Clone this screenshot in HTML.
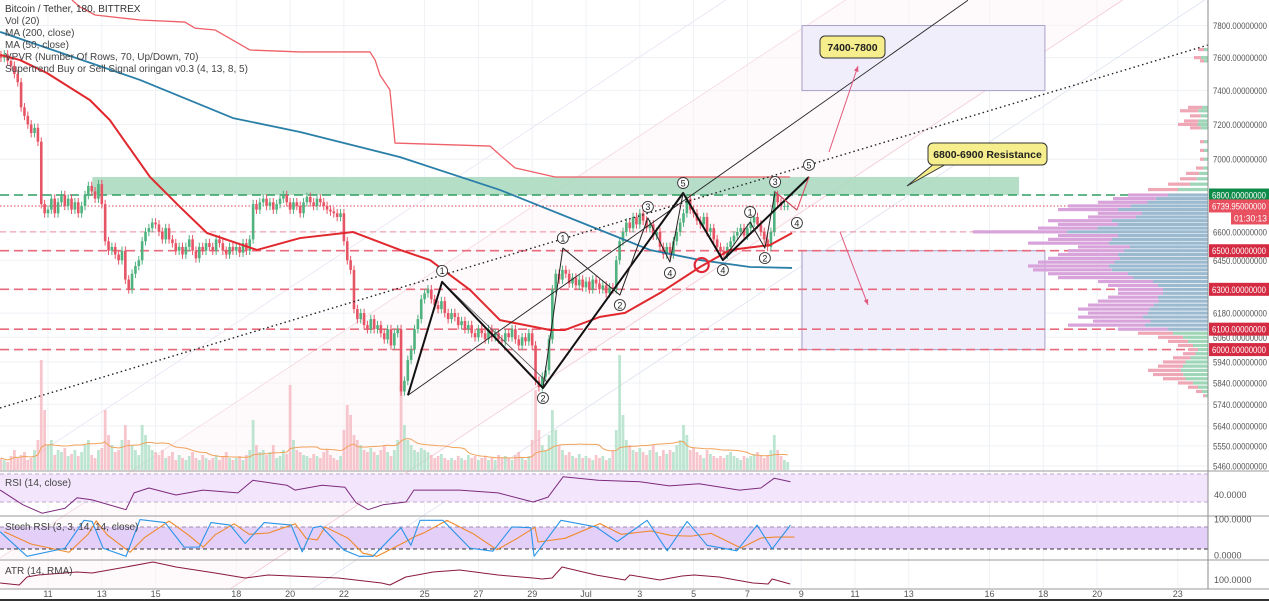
<!DOCTYPE html>
<html><head><meta charset="utf-8"><title>BTC/USDT 180 chart</title>
<style>
html,body{margin:0;padding:0;background:#fff;overflow:hidden;width:1269px;height:602px}
svg{display:block;font-family:"Liberation Sans",sans-serif;overflow:hidden}
.ax{font-size:9px;fill:#555}
.lg{font-size:10px;fill:#444}
</style></head>
<body>
<svg id="chart" width="1269" height="602" viewBox="0 0 1269 602" xmlns="http://www.w3.org/2000/svg">
<defs><clipPath id="plotclip"><rect x="0" y="0" width="1208" height="589"/></clipPath></defs>
<g id="grid"></g>
<g id="zones" clip-path="url(#plotclip)"></g>
<g id="vprofile"></g>
<g id="volume"></g>
<g id="candles"></g>
<g id="lines"></g>
<g id="annot" clip-path="url(#plotclip)"></g>
<g id="panes"></g>
<g id="axes"></g>
<g id="legend">
 <text class="lg" x="5" y="12" style="fill:#333">Bitcoin / Tether, 180, BITTREX</text>
 <text class="lg" x="5" y="24">Vol (20)</text>
 <text class="lg" x="5" y="36">MA (200, close)</text>
 <text class="lg" x="5" y="48">MA (50, close)</text>
 <text class="lg" x="5" y="60">VPVR (Number Of Rows, 70, Up/Down, 70)</text>
 <text class="lg" x="5" y="72">Supertrend Buy or Sell Signal oringan v0.3 (4, 13, 8, 5)</text>
</g>
</svg>
<script>
const startDay = 9.25;
const closes = [
7600,7620,7580,7550,7500,7450,
7300,7250,7200,7150,7180,7100,6750,6700,
6720,6780,6700,6760,6800,6740,6780,6720,
6760,6700,6740,6800,6850,6820,6780,6860,
6750,6550,6500,6520,6480,6450,6500,6350,
6300,6380,6420,6450,6550,6600,6620,6650,
6640,6600,6560,6620,6560,6540,6500,6520,
6480,6520,6560,6500,6460,6520,6500,6540,
6520,6500,6560,6540,6500,6480,6520,6500,
6520,6490,6540,6500,6560,6750,6720,6760,
6780,6740,6760,6720,6750,6780,6800,6760,
6720,6760,6740,6700,6760,6790,6760,6740,
6780,6760,6740,6720,6710,6700,6680,6700,
6550,6450,6400,6200,6150,6180,6120,6100,
6150,6100,6120,6080,6050,6100,6020,6080,
6100,5800,5850,5950,6000,6100,6150,6250,
6280,6300,6250,6220,6200,6240,6180,6150,
6180,6160,6120,6140,6100,6120,6080,6060,
6100,6080,6050,6100,6060,6080,6050,6040,
6080,6060,6100,6050,6020,6060,6040,6080,
6020,5850,5820,5870,5900,6050,6300,6380,
6350,6400,6380,6330,6360,6320,6350,6310,
6340,6300,6350,6330,6300,6320,6280,6310,
6300,6450,6550,6600,6650,6620,6680,6640,
6700,6660,6620,6640,6580,6600,6520,6480,
6520,6480,6550,6600,6650,6700,6780,6720,
6700,6660,6640,6680,6600,6620,6560,6520,
6500,6480,6520,6550,6580,6600,6620,6580,
6620,6650,6680,6640,6600,6560,6520,6600,
6800,6760,6740,6740,6740];
const volumes = [
12,10,8,14,20,12,
15,18,10,12,20,30,110,60,
25,30,15,20,18,22,14,16,
20,14,18,25,30,15,12,20,
22,60,35,25,18,20,30,45,
30,25,20,15,45,35,25,20,
18,15,20,12,14,18,10,15,
12,10,14,18,12,10,15,12,
10,12,15,10,14,18,12,10,
12,14,10,15,20,50,25,18,
20,15,18,25,12,14,20,16,
85,30,20,18,15,14,12,16,
14,12,18,20,15,12,10,14,
40,65,55,35,30,25,20,18,
22,18,15,20,25,18,14,20,
30,85,45,30,25,20,18,22,
20,18,15,12,14,16,12,10,
12,10,14,12,10,15,12,14,
10,12,14,10,12,10,15,12,
14,12,10,15,18,12,10,14,
30,80,40,25,20,35,60,40,
25,20,15,18,14,12,16,12,
14,12,10,15,12,14,10,12,
20,40,115,55,30,25,20,18,
22,18,15,20,25,18,14,20,
16,20,18,25,30,45,35,20,
22,18,15,12,20,16,14,12,
14,12,15,18,14,12,10,14,
12,14,16,18,14,12,15,20,
35,20,14,10,8];
const ma50Days  = [9.22,9.96,10.96,12.56,13.3,14.79,15.91,16.91,18.77,20.37,22.34,24.09,25.2,26.69,27.8,29.66,30.22,31.52,32.45,33.75,35.24,36.35,37.84,38.66];
const ma50Vals  = [7617,7585,7506,7343,7225,6900,6734,6594,6504,6567,6599,6504,6451,6297,6145,6096,6096,6161,6181,6281,6415,6504,6530,6594];
const ma200Days = [9.22,14.42,17.88,20.37,24.09,27.8,31.52,33.38,35.24,37.1,38.66];
const ma200Vals = [7760,7464,7237,7156,7012,6828,6610,6504,6451,6415,6410];
const stDays = [11.89,12.19,12.75,14.42,16.09,16.46,17.21,18.51,20.37,22.97,23.16,23.34,23.71,23.9,27.43,27.8,28.36,29.85,38.58];
const stVals = [7963,7918,7867,7835,7822,7784,7772,7647,7635,7635,7585,7494,7404,7092,7075,7024,6951,6900,6900];
const rsiDays = [9.22,10.07,10.78,11.63,12.08,12.64,13.9,14.2,14.75,15.76,16.76,18.06,18.62,19.88,20.18,21.19,22.04,22.45,22.9,23.45,24.31,24.6,26.3,27.73,29.03,29.59,30.15,31.45,33.0,34.1,35.2,36.7,37.5,38.0,38.6];
const rsiVals = [47,26,14,21,36,33,19,43,50,40,47,43,61,54,47,54,51,29,19,26,30,47,47,43,30,37,66,61,59,53,56,47,50,64,59];
const stochDays = [9.22,10.22,11.63,12.34,12.64,13.05,13.9,14.42,15.35,16.06,16.62,17.06,17.77,18.33,19.04,20.04,20.45,20.86,21.15,22.0,22.56,23.08,24.12,24.49,24.83,25.68,26.69,27.54,28.25,28.95,29.07,30.07,31.37,32.16,33.27,34.02,34.76,35.5,36.61,37.36,37.92,38.6];
const stochK = [67,0,22,98,95,22,0,100,92,25,25,92,85,35,92,85,12,78,82,17,0,0,78,30,98,98,22,14,80,78,0,98,80,40,98,15,95,30,15,85,20,85];
const atrDays = [9.22,9.93,10.22,10.63,12.08,12.64,13.9,14.9,15.76,17.21,18.33,19.18,21.79,23.4,23.71,24.3,24.72,25.31,26.3,27.73,29.03,29.37,29.74,30.11,31.37,32.45,32.63,33.75,34.57,35.02,35.95,37.21,37.77,37.92,38.59];
const atrVals = [94,90,106,110,116,114,126,136,126,114,104,110,104,94,90,106,110,116,120,110,104,102,104,126,110,100,110,100,108,110,106,94,92,102,92];
const vpPrice = [7650,7600,7580,7300,7280,7250,7220,7200,7180,7100,7050,7000,6950,6920,6890,6860,6830,6800,6780,6760,6740,6720,6700,6680,6660,6640,6620,6600,6580,6560,6540,6520,6500,6480,6460,6440,6420,6400,6380,6360,6340,6320,6300,6280,6260,6240,6220,6200,6180,6160,6140,6120,6100,6080,6060,6040,6020,6000,5980,5960,5940,5920,5900,5880,5860,5840,5820,5800,5780];
const vpWidth = [10,14,8,20,28,18,24,30,18,8,8,8,12,22,28,40,60,80,95,110,140,150,110,120,160,150,170,235,150,160,180,130,140,150,160,170,180,175,160,150,110,100,90,90,100,110,120,130,120,130,115,140,90,70,50,40,30,20,25,35,45,50,60,55,45,30,20,12,5];
const vpUp    = [.4,.5,.5,.3,.35,.4,.4,.35,.4,.5,.5,.5,.4,.4,.4,.45,.5,.5,.55,.55,.55,.6,.6,.6,.6,.6,.65,.6,.6,.6,.55,.6,.6,.6,.55,.55,.55,.55,.5,.5,.5,.5,.5,.5,.5,.45,.45,.45,.5,.5,.5,.45,.45,.5,.5,.5,.5,.5,.5,.5,.5,.5,.45,.45,.5,.5,.5,.5,.5];
const priceTicks = [7800,7600,7400,7200,7000,6600,6450,6180,6060,5940,5840,5740,5640,5550,5460];
const dateTickDays = [11,13,15,18,20,22,25,27,29,31,33,35,37,39,41,43,46,48,50,53];
const dateTickLabels = ["11","13","15","18","20","22","25","27","29","Jul","3","5","7","9","11","13","16","18","20","23"];

const NS="http://www.w3.org/2000/svg";
const X = d => 48 + (d-11)*26.9;
const Y = p => 195 - 1235*Math.log(p/6800);
const VOLBASE=470, VY = v => VOLBASE - v;
const RY = v => 474 + (70-v)*0.7;
const SY = v => 556.3 - v*0.367;
const AY = v => 580 - (v-100)*0.5;
const RIGHT=1208;
function mk(tag, attrs, parent){const e=document.createElementNS(NS,tag);for(const k in attrs)e.setAttribute(k,attrs[k]);parent.appendChild(e);return e;}
const G=id=>document.getElementById(id);

const grid=G('grid');
dateTickDays.forEach(d=>{const l=mk('line',{x1:X(d),x2:X(d),y1:0,y2:589,stroke:'#eef1f5','stroke-width':1},grid);

});
priceTicks.concat([6800,6500,6300,6100,6000]).forEach(p=>{const l=mk('line',{x1:0,x2:RIGHT,y1:Y(p),y2:Y(p),stroke:'#eef1f5','stroke-width':1},grid);

});

const zones=G('zones');
function seg(par,x1,y1,x2,y2,st,w,dash,name){const l=mk('line',{x1,y1,x2,y2,stroke:st,'stroke-width':w},par);if(dash)l.setAttribute('stroke-dasharray',dash);

return l;}
const slope=-0.66;
// clip a channel line (intercept b at x=0) to the plot box 0..RIGHT, 0..589
function chanSeg(b){let x1=0,y1=b;if(y1>589){x1=(589-b)/slope;y1=589;}let x2=RIGHT,y2=b+slope*RIGHT;if(y2<0){x2=-b/slope;y2=0;}return [x1,y1,x2,y2];}
const chan=[[479,'#ece2f3'],[558,'#f5d8df'],[741,'#f3c9d3'],[795,'#dde2ee']];
const s1=chanSeg(558), s2=chanSeg(741);
const cf=mk('polygon',{points:`${s1[0]},${s1[1]} ${s1[2]},${s1[3]} ${s2[2]},${s2[3]} ${RIGHT},0 ${s2[2]},${s2[3]} ${s2[0]},${s2[1]} 0,589 0,558`,fill:'#fdf3f6',opacity:0.5},zones);
cf.setAttribute('points',`0,558 ${s1[2]},${s1[3]} ${s2[2]},${s2[3]} ${s2[0]},${s2[1]} 0,589`);


chan.forEach(c=>{const s=chanSeg(c[0]);seg(zones,s[0],s[1],s[2],s[3],c[1],0.8,null,'channel-line');});
const gz=mk('rect',{x:X(12.65),y:Y(6900),width:X(47.1)-X(12.65),height:Y(6800)-Y(6900),fill:'#a8d8bd',opacity:0.85},zones);


[[7800,7400,'target-box'],[6500,6000,'support-box']].forEach(b=>{const r=mk('rect',{x:X(39.03),y:Y(b[0]),width:X(48.06)-X(39.03),height:Y(b[1])-Y(b[0]),fill:'#f1eefc',stroke:'#a9a0c8','stroke-width':1},zones);

});
seg(zones,0,Y(6800),RIGHT,Y(6800),'#2e9e62',1.6,'9 5','level-6800');
seg(zones,0,Y(6739.95),RIGHT,Y(6739.95),'#e0455a',1,'1.5 2','level-last-price');
seg(zones,0,Y(6600),RIGHT,Y(6600),'#eb8d9c',1,'6 4','level-6600');
[6500,6300,6100,6000].forEach(p=>seg(zones,0,Y(p),RIGHT,Y(p),'#e86a7c',1.6,'9 5','level-'+p));

const vp=G('vprofile');
vpPrice.forEach((p,i)=>{const w=vpWidth[i],inVA=p>=6100&&p<=6800,y=Y(p)-1.6;
const up=w*vpUp[i];
const a=mk('rect',{x:RIGHT-up,y,width:up,height:3.2,fill:inVA?'#9bbad0':'#9fd6b8'},vp);


const b=mk('rect',{x:RIGHT-w,y,width:w-up,height:3.2,fill:inVA?'#d8a2da':'#efa7b6'},vp);

});

const cg=G('candles'), vg=G('volume');
closes.forEach((c,i)=>{const d=startDay+i*0.125,x=X(d),o=i?closes[i-1]:c*1.002,up=c>=o;
const col=up?'#4fb27f':'#e65566';
const hi=Math.max(o,c)*1.0035, lo=Math.min(o,c)*0.9965;
const w=mk('line',{x1:x,x2:x,y1:Y(hi),y2:Y(lo),stroke:col,'stroke-width':1},cg);


const yb=Math.min(Y(o),Y(c)),h=Math.max(1,Math.abs(Y(o)-Y(c)));
const r=mk('rect',{x:x-1.3,y:yb,width:2.6,height:h,fill:col},cg);


const v=volumes[i];
const vb=mk('rect',{x:x-1.4,y:VY(v),width:2.8,height:v,fill:up?'#a7dcc2':'#f4b3bc',opacity:0.75},vg);

});
let vpts=[];volumes.forEach((v,i)=>{const s=volumes.slice(Math.max(0,i-19),i+1);const m=s.reduce((a,b)=>a+b,0)/s.length;vpts.push(X(startDay+i*0.125)+','+VY(m));});
const vma=mk('polyline',{points:vpts.join(' '),fill:'none',stroke:'#f0a35a','stroke-width':1},vg);



const lg=G('lines');
function pl(par,days,vals,fx,fy,col,w,name){const p=mk('polyline',{points:days.map((d,i)=>fx(d)+','+fy(vals[i])).join(' '),fill:'none',stroke:col,'stroke-width':w,'stroke-linejoin':'round'},par);

return p;}
pl(lg,ma200Days,ma200Vals,X,Y,'#2a7fa8',1.8,'ma200-line');
pl(lg,ma50Days,ma50Vals,X,Y,'#e0282e',2,'ma50-line');
pl(lg,stDays,stVals,X,Y,'#ef5f68',1.3,'supertrend-line');

const an=G('annot');
seg(an,0,408,RIGHT,45,'#222',1.4,'1.5 3','dotted-trendline');
seg(an,X(24.38),Y(5782),X(24.38)+560,Y(5782)-395,'#222',0.9,null,'channel-top-line');
seg(an,X(25.65),Y(6338),X(29.4)+4,Y(5816)-6,'#555',0.8,null,'wave-thin');
const thickD=[24.38,25.65,29.4,34.61,36.09,39.29], thickP=[5782,6338,5816,6811,6451,6900];
pl(an,thickD,thickP,X,Y,'#111',2,'elliott-wave-main');
pl(an,[29.4,30.14,32.26,33.3,34.12,34.61],[5816,6514,6271,6675,6441,6811],X,Y,'#222',1,'elliott-wave-sub1');
pl(an,[36.09,37.1,37.65,38.03,38.84],[6451,6653,6514,6817,6718],X,Y,'#222',1,'elliott-wave-sub2');
pl(an,[38.03,38.84,39.29],[6817,6718,6900],X,Y,'#e0455a',1,'elliott-wave-tail');
const lab=[[25.65,6338,'1',-11],[29.4,5816,'2',10],[30.14,6514,'1',-10],[32.26,6271,'2',10],[33.3,6675,'3',-11],[34.12,6441,'4',11],[34.61,6811,'5',-10],[36.09,6451,'4',10],[37.1,6653,'1',-10],[37.65,6514,'2',10],[38.03,6817,'3',-10],[38.84,6718,'4',13],[39.29,6900,'5',-12]];
lab.forEach(l=>{const cx=X(l[0]),cy=Y(l[1])+l[3];
const c=mk('circle',{cx,cy,r:5.5,fill:'#fff',stroke:'#333','stroke-width':0.9},an);


const t=mk('text',{x:cx,y:cy+3.3,'text-anchor':'middle','font-size':'9px',fill:'#222'},an);t.textContent=l[2];

});
const rc=mk('circle',{cx:X(35.3),cy:Y(6451)+5,r:7,fill:'none',stroke:'#e0283a','stroke-width':2.2},an);


function arrow(x1,y1,x2,y2,name){seg(an,x1,y1,x2,y2,'#e0587c',1,null,name);const a=Math.atan2(y2-y1,x2-x1),s=6;
const p=mk('polygon',{points:`${x2},${y2} ${x2-s*Math.cos(a-0.4)},${y2-s*Math.sin(a-0.4)} ${x2-s*Math.cos(a+0.4)},${y2-s*Math.sin(a+0.4)}`,fill:'#e0587c'},an);

}
arrow(829,152,858,66,'arrow-up-target');
arrow(840,232,868,305,'arrow-down-target');
function callout(x,y,w,h,txt,tail,name){
if(tail){const p=mk('polygon',{points:tail,fill:'#f6ee8c',stroke:'#333','stroke-width':1},an);

}
const r=mk('rect',{x,y,width:w,height:h,rx:5,fill:'#f6ee8c',stroke:'#333','stroke-width':1},an);


const t=mk('text',{x:x+w/2,y:y+h/2+3.8,'text-anchor':'middle','font-size':'10.5px','font-weight':'bold',fill:'#222'},an);t.textContent=txt;

}
callout(820,36,65,22,'7400-7800',null,'target-callout');
callout(928,143,119,22,'6800-6900 Resistance','935,163 907,186 948,163','resistance-callout');

const pn=G('panes');
function band(y1,y2,fill,name){const r=mk('rect',{x:0,y:y1,width:RIGHT,height:y2-y1,fill},pn);

}
band(RY(70),RY(30),'#f3e6fc','rsi-band');
seg(pn,0,RY(70),RIGHT,RY(70),'#bda9cc',1,'4 3','rsi-70');
seg(pn,0,RY(30),RIGHT,RY(30),'#bda9cc',1,'4 3','rsi-30');
pl(pn,rsiDays,rsiVals,X,RY,'#7d2a7e',1,'rsi-line');
band(SY(80),SY(20),'#e4cff9','stoch-band');
seg(pn,0,SY(80),RIGHT,SY(80),'#9d8db0',1,'4 3','stoch-80');
seg(pn,0,SY(20),RIGHT,SY(20),'#333',1,'4 3','stoch-20');
const stochD=stochK.map((v,i)=>i?(v+stochK[i-1])/2:v);
pl(pn,stochDays.map(d=>d+0.15),stochD,X,SY,'#f08a2a',1.1,'stoch-d-line');
pl(pn,stochDays,stochK,X,SY,'#2a95e8',1.1,'stoch-k-line');
pl(pn,atrDays,atrVals,X,AY,'#8a1b3e',1,'atr-line');
[['RSI (14, close)',486,'rsi-title'],['Stoch RSI (3, 3, 14, 14, close)',530,'stoch-title'],['ATR (14, RMA)',574,'atr-title']].forEach(t=>{const e=mk('text',{x:5,y:t[1],class:'lg','font-size':'9.5px'},pn);e.textContent=t[0];

});

const ax=G('axes');
[471,516,560,589].forEach(y=>seg(ax,0,y,1269,y,'#9a9a9a',1,null,'pane-separator'));
seg(ax,0,600,1269,600,'#333',2,null,'bottom-border');
seg(ax,RIGHT,0,RIGHT,589,'#8c8c8c',1,null,'price-axis-line');
priceTicks.forEach(p=>{const t=mk('text',{x:RIGHT+5,y:Y(p)+3.5,class:'ax',textLength:54,lengthAdjust:'spacingAndGlyphs'},ax);t.textContent=p.toFixed(8);

});
const tags=[[6800,'6800.00000000','#0c8a48'],[6739.95,'6739.95000000','#e8505f'],[6500,'6500.00000000','#d42a42'],[6300,'6300.00000000','#d42a42'],[6100,'6100.00000000','#d42a42'],[6000,'6000.00000000','#d42a42']];
tags.forEach(g=>{const y=Y(g[0]);const r=mk('rect',{x:RIGHT+1,y:y-6.5,width:60,height:13,fill:g[2]},ax);


const t=mk('text',{x:RIGHT+4,y:y+3.5,class:'ax',style:'fill:#fff',textLength:54,lengthAdjust:'spacingAndGlyphs'},ax);t.textContent=g[1];

});
const ct=mk('rect',{x:1231,y:Y(6739.95)+6.5,width:38,height:12,fill:'#e8505f'},ax);


const ctt=mk('text',{x:1234,y:Y(6739.95)+15.5,class:'ax',style:'fill:#fff',textLength:33,lengthAdjust:'spacingAndGlyphs'},ax);ctt.textContent='01:30:13';


[['40.0000',RY(40)+3],['100.0000',SY(100)+3],['0.0000',SY(0)+2],['100.0000',AY(100)+3]].forEach(l=>{const t=mk('text',{x:RIGHT+6,y:l[1],class:'ax'},ax);t.textContent=l[0];

});
dateTickDays.forEach((d,i)=>{const t=mk('text',{x:X(d),y:597,class:'ax','text-anchor':'middle'},ax);t.textContent=dateTickLabels[i];

});
</script>
</body></html>
